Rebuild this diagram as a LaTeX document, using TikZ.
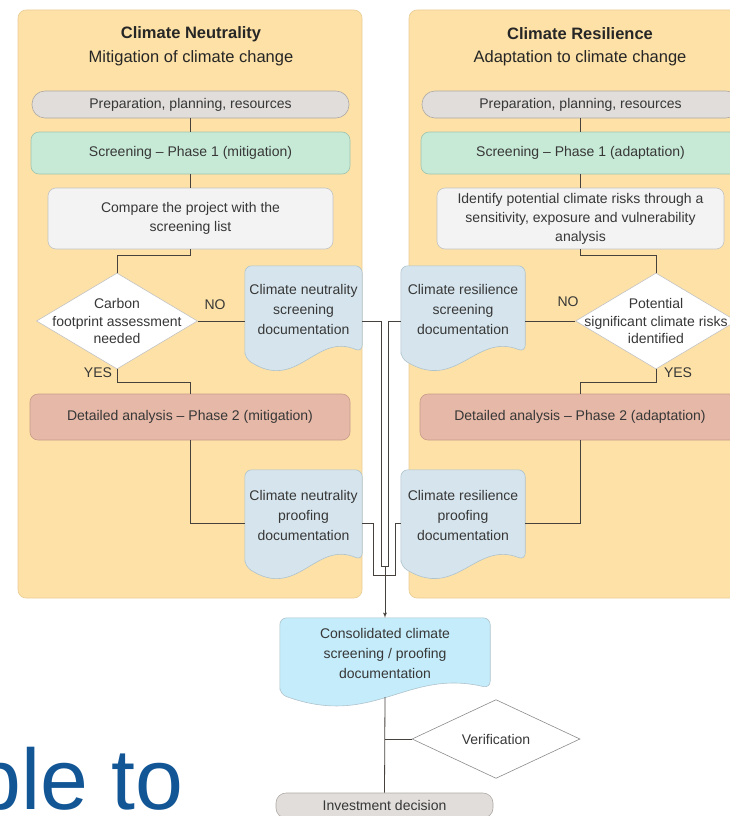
\documentclass[tikz,border=0pt]{standalone}
\usepackage{fontspec}
\setmainfont{Liberation Sans}
\usepackage{tikz}
\usetikzlibrary{shapes}
\usetikzlibrary{arrows}

\definecolor{panelfill}{RGB}{253,225,166}
\definecolor{paneledge}{RGB}{232,205,150}
\definecolor{prepfill}{RGB}{224,221,219}
\definecolor{prepedge}{RGB}{175,170,165}
\definecolor{scrfill}{RGB}{199,234,215}
\definecolor{scredge}{RGB}{160,195,175}
\definecolor{cmpfill}{RGB}{243,243,243}
\definecolor{cmpedge}{RGB}{195,195,195}
\definecolor{detfill}{RGB}{229,184,167}
\definecolor{detedge}{RGB}{200,155,138}
\definecolor{docblue}{RGB}{214,229,237}
\definecolor{docedge}{RGB}{175,195,205}
\definecolor{conscyan}{RGB}{196,236,250}
\definecolor{linecol}{RGB}{70,65,60}
\definecolor{txtcol}{RGB}{55,55,55}
\definecolor{slideblue}{RGB}{18,86,150}

\pgfdeclarelayer{bg}
\pgfsetlayers{bg,main}

\begin{document}
\begin{tikzpicture}[x=1pt,y=-1pt]
\tikzset{box/.style = {shape=rectangle,draw,line width=0.6pt,align=center,text=txtcol,font=\fontsize{14}{19}\selectfont,inner sep=0pt}}
\tikzset{prepbox/.style = {box,fill=prepfill,draw=prepedge,rounded corners=13pt,minimum width=317pt,minimum height=27pt}}
\tikzset{scrbox/.style = {box,fill=scrfill,draw=scredge,rounded corners=8pt,minimum width=319pt,minimum height=42pt}}
\tikzset{cmpbox/.style = {box,fill=cmpfill,draw=cmpedge,rounded corners=8pt,minimum height=61pt}}
\tikzset{detbox/.style = {box,fill=detfill,draw=detedge,rounded corners=8pt,minimum width=320pt,minimum height=46pt}}
\tikzset{doc/.style = {shape=rectangle,align=center,text=txtcol,font=\fontsize{14}{20}\selectfont,inner sep=0pt}}
\tikzset{decision/.style = {shape=diamond,draw=cmpedge,fill=white,line width=0.6pt,minimum width=161pt,minimum height=96pt,inner sep=0pt}}
\tikzset{dtext/.style = {align=center,text=txtcol,font=\fontsize{14}{17.5}\selectfont,inner sep=0pt}}
\tikzset{lbl/.style = {text=txtcol,font=\fontsize{14}{16}\selectfont,inner sep=0pt}}
\tikzset{title/.style = {text=black!85,font=\fontsize{16.5}{20}\selectfont\bfseries,inner sep=0pt}}
\tikzset{subtitle/.style = {text=black!85,font=\fontsize{16.5}{20}\selectfont,inner sep=0pt}}
\tikzset{link/.style = {draw=linecol,line width=0.8pt}}
\tikzset{edge/.style = {link,->,> = latex'}}

\useasboundingbox (0,0) rectangle (730,816);
\clip (0,0) rectangle (730,816);

% titles
\node[title] (ntitle) at (191,34) {Climate Neutrality};
\node[subtitle] (nsub) at (191,58) {Mitigation of climate change};
\node[title] (rtitle) at (580,34) {Climate Resilience};
\node[subtitle] (rsub) at (580,58) {Adaptation to climate change};

% mitigation column
\node[prepbox] (nprep) at (190.5,104.5) {Preparation, planning, resources};
\node[scrbox] (nscr) at (190.5,153) {Screening – Phase 1 (mitigation)};
\node[cmpbox,minimum width=285pt] (ncmp) at (190.5,218.5) {Compare the project with the\\screening list};
\node[decision,label={[dtext]center:Carbon\\footprint assessment\\needed}] (ndia) at (117,321) {};
\node[lbl] (nno) at (215,305) {NO};
\node[lbl] (nyes) at (98,373) {YES};
\node[doc,minimum width=117pt,minimum height=86pt] (nsdoc) at (303.5,309) {Climate neutrality\\screening\\documentation};
\node[detbox] (ndet) at (190,417) {Detailed analysis – Phase 2 (mitigation)};
\node[doc,minimum width=117pt,minimum height=90pt] (npdoc) at (303.5,515) {Climate neutrality\\proofing\\documentation};

% adaptation column
\node[prepbox] (rprep) at (580.5,104.5) {Preparation, planning, resources};
\node[scrbox] (rscr) at (580.5,153) {Screening – Phase 1 (adaptation)};
\node[cmpbox,minimum width=287pt] (rcmp) at (580.5,218.5) {Identify potential climate risks through a\\sensitivity, exposure and vulnerability\\analysis};
\node[decision,label={[dtext]center:Potential\\significant climate risks\\identified}] (rdia) at (656,321) {};
\node[lbl] (rno) at (568,302) {NO};
\node[lbl] (ryes) at (678,373) {YES};
\node[doc,minimum width=124pt,minimum height=86pt] (rsdoc) at (463,309) {Climate resilience\\screening\\documentation};
\node[detbox] (rdet) at (580,417) {Detailed analysis – Phase 2 (adaptation)};
\node[doc,minimum width=124pt,minimum height=90pt] (rpdoc) at (463,515) {Climate resilience\\proofing\\documentation};

% consolidation
\node[doc,minimum width=210pt,minimum height=70pt] (cons) at (385,653) {Consolidated climate\\screening / proofing\\documentation};
\node[decision,draw=black!45,minimum width=168pt,minimum height=67pt,dtext] (vdia) at (496,739) {Verification};
\node[prepbox,minimum width=217pt,minimum height=25pt,rounded corners=10pt] (inv) at (384.5,805.5) {Investment decision};
\node[anchor=base west,inner sep=0pt,text=slideblue,font=\fontsize{86}{90}\selectfont] (ble) at (-27,809) {ble to};

\coordinate (nlvl) at (0,523);
\coordinate (mjtop) at (385,566);
\coordinate (mjbot) at (385,575);

% panels and documents
\begin{pgfonlayer}{bg}
\filldraw[fill=panelfill,draw=paneledge,line width=0.6pt,rounded corners=8pt] (18,10) rectangle (362,598);
\filldraw[fill=panelfill,draw=paneledge,line width=0.6pt,rounded corners=8pt] (409,10) rectangle (760,598);
\foreach \d/\w/\c in {nsdoc/117/docblue,npdoc/117/docblue,rsdoc/124/docblue,rpdoc/124/docblue,cons/210/conscyan}
  \filldraw[fill=\c,draw=docedge,line width=0.6pt,rounded corners=7pt] ([yshift=-6pt]\d.south west) -- (\d.north west) -- (\d.north east) -- (\d.south east) .. controls +({-0.4*\w},-20) and +({0.45*\w},34) .. ([yshift=-6pt]\d.south west) -- cycle;
\end{pgfonlayer}

%edges
\draw[link] (nprep) -- (nscr);
\draw[link] (nscr) -- (ncmp);
\draw[link] (ncmp.south) -- ++(0,6) -| (ndia.north);
\draw[link] (ndia.east) -- (ndia.east -| nsdoc.west);
\draw[link] (ndia.south) -- ++(0,13) -| (ndet.north);
\draw[link] (ndet.south) |- (npdoc.west |- nlvl);

\draw[link] (rprep) -- (rscr);
\draw[link] (rscr) -- (rcmp);
\draw[link] (rcmp.south) -- ++(0,6) -| (rdia.north);
\draw[link] (rdia.west) -- (rdia.west -| rsdoc.east);
\draw[link] (rdia.south) -- ++(0,13) -| (rdet.north);
\draw[link] (rdet.south) |- (rpdoc.east |- nlvl);

\draw[link] (ndia.east -| nsdoc.east) -- ++(19,0) |- (mjtop);
\draw[link] (rdia.west -| rsdoc.west) -- ++(-12,0) |- (mjtop);
\draw[link] (npdoc.east |- nlvl) -- ++(11,0) |- (mjbot);
\draw[link] (rpdoc.west |- nlvl) -- ++(-5,0) |- (mjbot);
\draw[edge] (mjtop) -- (cons.north);

\draw[link] ([yshift=-9pt]cons.south) -- (inv.north);
\draw[link] (vdia.west) -- (vdia.west -| cons.south);

\end{tikzpicture}
\end{document}
